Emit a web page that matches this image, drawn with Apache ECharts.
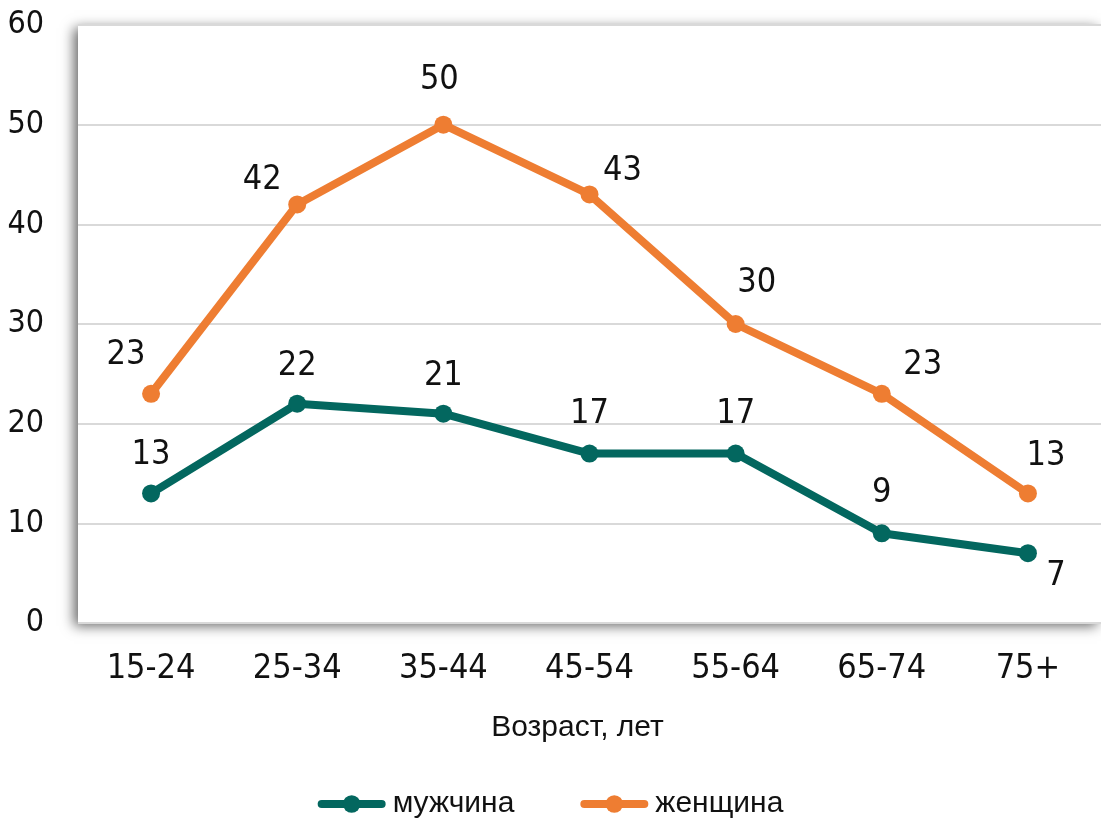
<!DOCTYPE html>
<html>
<head>
<meta charset="utf-8">
<script src="https://cdn.jsdelivr.net/npm/echarts@6/dist/echarts.min.js"></script>
<style>
  html, body { margin: 0; padding: 0; background: #fff; }
  #chart { width: 1101px; height: 818px; }
</style>
</head>
<body>
<div id="chart"></div>
<script>
// данные
const ageGroups = ['15-24', '25-34', '35-44', '45-54', '55-64', '65-74', '75+'];
const maleValues = [13, 22, 21, 17, 17, 9, 7];
const femaleValues = [23, 42, 50, 43, 30, 23, 13];
const yTicks = [0, 10, 20, 30, 40, 50, 60];

// сдвиг подписей относительно точки
const maleLabelShift = [[0, -38], [0, -38], [0, -38], [0, -39], [0, -39], [0, -40], [28, 23]];
const femaleLabelShift = [[-25, -39], [-35, -24], [-4, -44], [33, -23], [21, -41], [41, -29], [18, -37]];

const NUM_FONT = '"Liberation Sans Narrow", "DejaVu Sans Condensed", "Liberation Sans", sans-serif';
const TXT_FONT = '"Liberation Sans", Arial, sans-serif';
const TEAL = '#03675f';
const ORANGE = '#ee7d32';

const chart = echarts.init(document.getElementById('chart'));

const withLabels = (values, shifts) => values.map((v, i) => ({
    value: v,
    label: { offset: shifts[i] }
}));

const makeSeries = (name, color, values, shifts) => ({
    name: name,
    type: 'line',
    data: withLabels(values, shifts),
    symbol: 'circle',
    symbolSize: 18,
    itemStyle: { color: color },
    lineStyle: { color: color, width: 8 },
    label: {
        show: true,
        position: 'inside',
        fontFamily: NUM_FONT,
        fontSize: 34,
        color: '#111'
    },
    emphasis: { disabled: true },
    animation: false
});

const option = {
    backgroundColor: '#fff',
    grid: {
        left: 78,
        top: 25,
        width: 1028,
        height: 598,
        show: true,
        backgroundColor: '#fff',
        borderWidth: 0,
        shadowColor: 'rgba(0,0,0,0.6)',
        shadowBlur: 12,
        shadowOffsetX: -4,
        shadowOffsetY: 3
    },
    xAxis: {
        type: 'category',
        data: ageGroups,
        name: 'Возраст, лет',
        nameLocation: 'middle',
        nameGap: 90,
        nameTextStyle: {
            fontFamily: TXT_FONT,
            fontSize: 30,
            color: '#111',
            padding: [0, 24, 0, 0]
        },
        axisLine: { show: false },
        axisTick: { show: false },
        axisLabel: {
            fontFamily: NUM_FONT,
            fontSize: 34,
            color: '#111',
            margin: 29
        }
    },
    yAxis: {
        type: 'value',
        min: yTicks[0],
        max: yTicks[yTicks.length - 1],
        interval: 10,
        axisLine: { show: false },
        axisTick: { show: false },
        axisLabel: {
            fontFamily: NUM_FONT,
            fontSize: 32,
            color: '#111',
            margin: 34
        },
        splitLine: { lineStyle: { color: '#d9d9d9', width: 2 } }
    },
    legend: {
        top: 784,
        left: 'center',
        itemWidth: 60,
        itemHeight: 22,
        itemGap: 66,
        lineStyle: { width: 8, cap: 'round' },
        textStyle: {
            fontFamily: TXT_FONT,
            fontSize: 30,
            color: '#111',
            padding: [0, 0, 0, 6]
        },
        data: ['мужчина', 'женщина']
    },
    series: [
        makeSeries('мужчина', TEAL, maleValues, maleLabelShift),
        makeSeries('женщина', ORANGE, femaleValues, femaleLabelShift)
    ]
};

chart.setOption(option);
</script>
</body>
</html>
